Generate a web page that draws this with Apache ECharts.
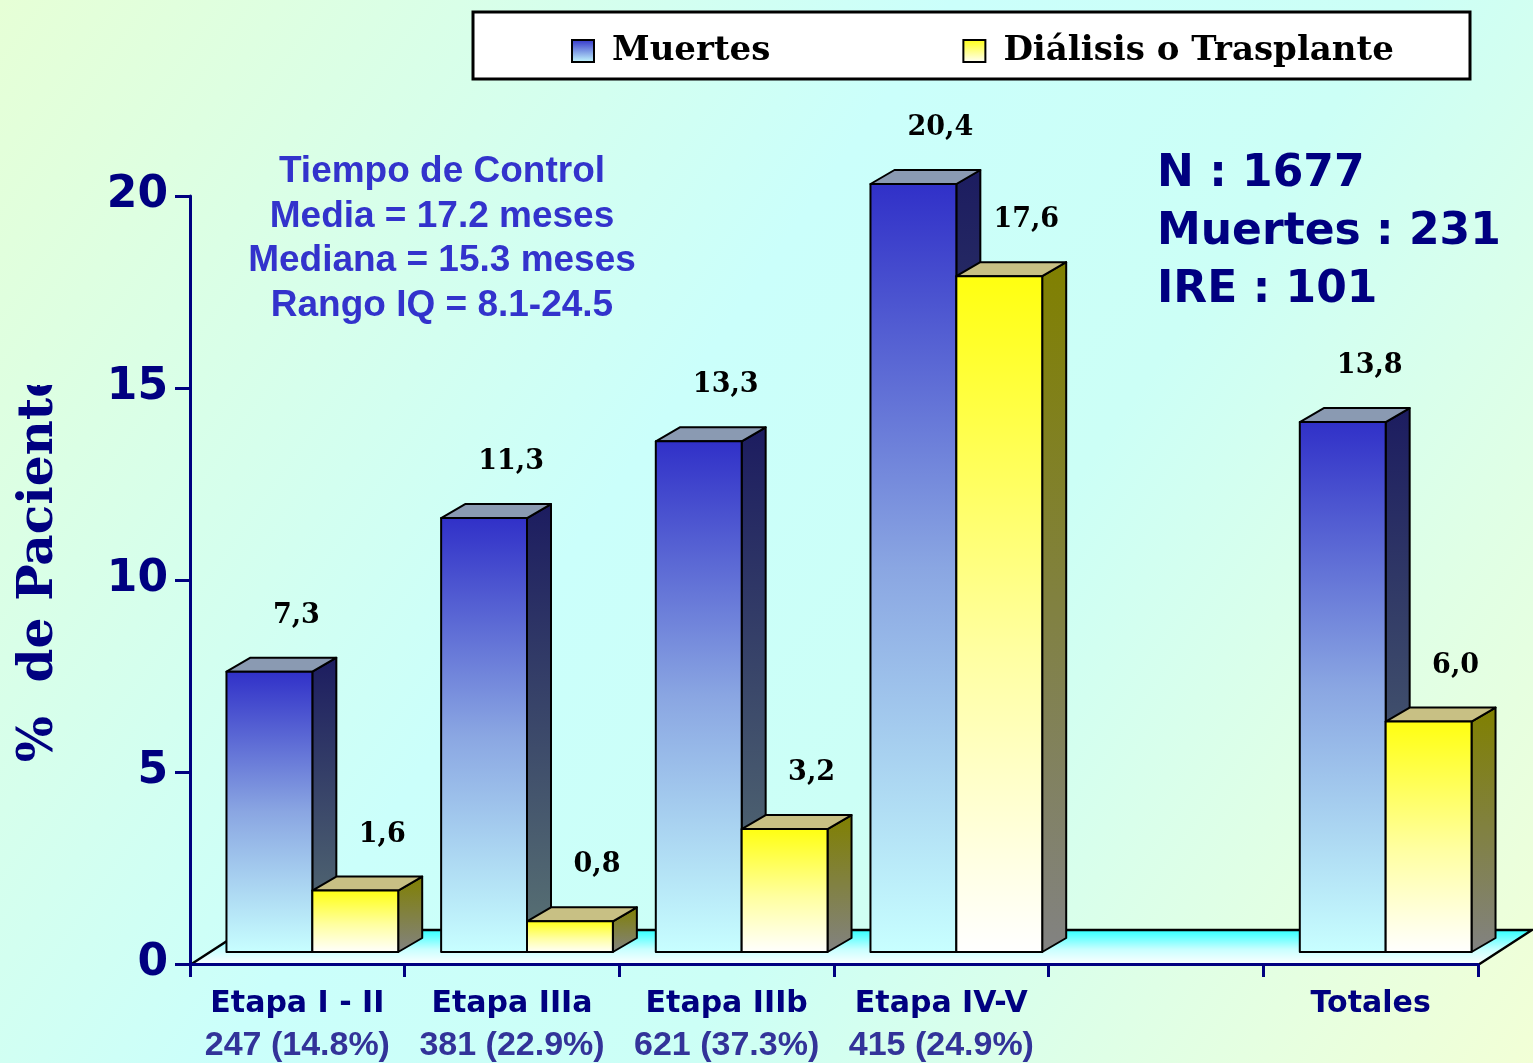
<!DOCTYPE html>
<html>
<head>
<meta charset="utf-8">
<script src="https://cdn.jsdelivr.net/npm/echarts@6/dist/echarts.min.js"></script>
<style>
html,body{margin:0;padding:0;overflow:hidden;}
#c{width:1533px;height:1063px;}
</style>
</head>
<body>
<div id="c"></div>
<script>
// ---- data ----
const categories = ['Etapa I - II', 'Etapa IIIa', 'Etapa IIIb', 'Etapa IV-V', '', 'Totales'];
const counts = ['247 (14.8%)', '381 (22.9%)', '621 (37.3%)', '415 (24.9%)', '', ''];
const muertes = [7.3, 11.3, 13.3, 20.4, null, 13.8];
const dialisis = [1.6, 0.8, 3.2, 17.6, null, 6.0];
const yTicks = [0, 5, 10, 15, 20];
const seriesNames = ['Muertes', 'Diálisis o Trasplante'];
const controlLines = ['Tiempo de Control', 'Media = 17.2 meses', 'Mediana = 15.3 meses', 'Rango IQ = 8.1-24.5'];
const statsLines = ['N : 1677', 'Muertes : 231', 'IRE : 101'];
const yTitle = '%  de Pacientes';

// ---- layout / style ----
const W = 1533, H = 1063;
const GRID = {left: 190, top: 196, width: 1288, height: 769};
const Y_MIN = yTicks[0], Y_MAX = yTicks[yTicks.length - 1], Y_STEP = yTicks[1] - yTicks[0];
const NAVY = '#000080';
const LG = echarts.graphic.LinearGradient;

const bgStops = [
  {offset: 0, color: '#e6ffd6'},
  {offset: 0.42, color: '#cbfffb'},
  {offset: 0.62, color: '#ccfff6'},
  {offset: 1, color: '#f2ffd6'}
];

const styles = [
  { // Muertes
    front: [{offset: 0, color: '#3030c8'}, {offset: 0.5, color: '#8aa6e2'}, {offset: 1, color: '#c8ffff'}],
    side: [{offset: 0, color: '#1c1c60'}, {offset: 1, color: '#5a7474'}],
    top: '#8a9ab2'
  },
  { // Dialisis
    front: [{offset: 0, color: '#ffff10'}, {offset: 0.55, color: '#ffffa0'}, {offset: 1, color: '#ffffff'}],
    side: [{offset: 0, color: '#808000'}, {offset: 1, color: '#828282'}],
    top: '#c8c084'
  }
];

// 3D projection (pixels)
const FRONT_DX = 15, FRONT_DY = -12;   // bar front plane offset from axis plane
const DEPTH_DX = 24, DEPTH_DY = -14;   // bar depth
const FLOOR_DX = 54, FLOOR_DY = -35;   // floor depth
const LABEL_DX = 27, LABEL_DY = -56;

function fmt(v) { return v.toFixed(1).replace('.', ','); }

function makeRender(si) {
  const st = styles[si];
  return function (params, api) {
    const cat = api.value(0);
    const v = api.value(1);
    if (v == null || isNaN(v)) return;
    const band = api.size([1, 0])[0];
    const base = api.coord([cat, 0]);
    const topP = api.coord([cat, Math.min(v, Y_MAX)]);
    const bw = band * 0.4;
    const cx = base[0] + FRONT_DX;
    const x0 = si === 0 ? cx - bw : cx;
    const x1 = x0 + bw;
    const yb = base[1] + FRONT_DY;
    const yt = topP[1] + FRONT_DY;
    const stroke = {stroke: '#000', lineWidth: 2, lineJoin: 'round'};
    return {
      type: 'group',
      children: [
        {
          type: 'polygon',
          shape: {points: [[x1, yt], [x1 + DEPTH_DX, yt + DEPTH_DY], [x1 + DEPTH_DX, yb + DEPTH_DY], [x1, yb]]},
          style: Object.assign({fill: new LG(0, 0, 0, 1, st.side)}, stroke)
        },
        {
          type: 'polygon',
          shape: {points: [[x0, yt], [x0 + DEPTH_DX, yt + DEPTH_DY], [x1 + DEPTH_DX, yt + DEPTH_DY], [x1, yt]]},
          style: Object.assign({fill: st.top}, stroke)
        },
        {
          type: 'rect',
          shape: {x: x0, y: yt, width: bw, height: yb - yt},
          style: Object.assign({fill: new LG(0, 0, 0, 1, st.front)}, stroke)
        },
        {
          type: 'text',
          style: {
            text: fmt(v),
            x: (x0 + x1) / 2 + LABEL_DX,
            y: yt + LABEL_DY,
            textAlign: 'center', align: 'center',
            textVerticalAlign: 'middle', verticalAlign: 'middle',
            font: 'bold 27px "DejaVu Serif", serif',
            fill: '#000'
          }
        }
      ]
    };
  };
}

function toData(arr) {
  return arr.map((v, i) => [i, v]).filter(d => d[1] != null);
}

const GB = GRID.top + GRID.height, GL = GRID.left, GR = GRID.left + GRID.width;

const graphics = [
  // floor
  {
    type: 'polygon', z: 1, silent: true,
    shape: {points: [[GL, GB], [GR, GB], [GR + FLOOR_DX, GB + FLOOR_DY], [GL + FLOOR_DX, GB + FLOOR_DY]]},
    style: {fill: new LG(0, 0, 0, 1, [{offset: 0, color: '#30ffff'}, {offset: 0.55, color: '#c8ffff'}, {offset: 1, color: '#ffffff'}])}
  },
  {
    type: 'polyline', z: 1, silent: true,
    shape: {points: [[GL, GB], [GL + FLOOR_DX, GB + FLOOR_DY], [GR + FLOOR_DX, GB + FLOOR_DY], [GR, GB]]},
    style: {stroke: '#000', lineWidth: 2.5, fill: null}
  },
  // legend box
  {
    type: 'rect', z: 1, silent: true,
    shape: {x: 473, y: 12, width: 997, height: 67},
    style: {fill: '#ffffff', stroke: '#000', lineWidth: 3}
  },
  // cover for clipped axis title
  {
    type: 'rect', z: 100, silent: true,
    shape: {x: 0, y: 0, width: 100, height: 385},
    style: {fill: new LG(0, 0, W, H, bgStops, true)}
  }
];

controlLines.forEach((t, i) => {
  graphics.push({
    type: 'text', z: 10, silent: true,
    style: {
      text: t, x: 442, y: 172 + i * 44.5,
      textAlign: 'center', align: 'center', textVerticalAlign: 'middle', verticalAlign: 'middle',
      font: 'bold 37px "Liberation Sans", Arial, sans-serif', fill: '#3333cc'
    }
  });
});
statsLines.forEach((t, i) => {
  graphics.push({
    type: 'text', z: 10, silent: true,
    style: {
      text: t, x: 1157, y: 175 + i * 58,
      textAlign: 'left', align: 'left', textVerticalAlign: 'middle', verticalAlign: 'middle',
      font: 'bold 44px "DejaVu Sans", sans-serif', fill: NAVY
    }
  });
});

const legendIcon = [
  new LG(0, 0, 0, 1, [{offset: 0, color: '#3030c8'}, {offset: 1, color: '#c8ffff'}]),
  new LG(0, 0, 0, 1, [{offset: 0, color: '#ffff10'}, {offset: 1, color: '#ffffff'}])
];

const option = {
  backgroundColor: new LG(0, 0, 1, 1, bgStops),
  animation: false,
  grid: {left: GRID.left, top: GRID.top, width: GRID.width, height: GRID.height, containLabel: false},
  legend: {
    left: 566, top: 29,
    itemWidth: 22, itemHeight: 22, itemGap: 192,
    selectedMode: false,
    data: seriesNames.map((n, i) => ({
      name: n, icon: 'rect',
      itemStyle: {color: legendIcon[i], borderColor: '#000', borderWidth: 2}
    })),
    textStyle: {fontFamily: '"DejaVu Serif", serif', fontWeight: 'bold', fontSize: 34, color: '#000', padding: [0, 0, 0, 13]}
  },
  xAxis: {
    type: 'category',
    data: categories,
    z: 5,
    axisLine: {show: true, lineStyle: {color: NAVY, width: 3}},
    axisTick: {show: true, interval: 0, length: 13, lineStyle: {color: NAVY, width: 3}},
    axisLabel: {
      interval: 0, margin: 19,
      formatter: function (val, idx) {
        if (!val) return '';
        return counts[idx] ? '{a|' + val + '}\n{b|' + counts[idx] + '}' : '{a|' + val + '}';
      },
      rich: {
        a: {fontFamily: '"DejaVu Sans", sans-serif', fontWeight: 'bold', fontSize: 30, color: NAVY, lineHeight: 42},
        b: {fontFamily: '"Liberation Sans", Arial, sans-serif', fontWeight: 'bold', fontSize: 34, color: '#333399', lineHeight: 42}
      }
    },
    splitLine: {show: false}
  },
  yAxis: {
    type: 'value',
    min: Y_MIN, max: Y_MAX, interval: Y_STEP,
    z: 5,
    name: yTitle,
    nameLocation: 'middle',
    nameRotate: 90,
    nameGap: 126,
    nameTextStyle: {fontFamily: '"DejaVu Serif", serif', fontWeight: 'bold', fontSize: 48.5, color: NAVY, padding: [0, 0, 0, 58]},
    axisLine: {show: true, lineStyle: {color: NAVY, width: 3}},
    axisTick: {show: true, length: 15, lineStyle: {color: NAVY, width: 3}},
    axisLabel: {margin: 22, fontFamily: '"DejaVu Sans", sans-serif', fontWeight: 'bold', fontSize: 44, color: NAVY},
    splitLine: {show: false}
  },
  graphic: {elements: graphics},
  series: [
    {
      type: 'custom', name: seriesNames[0], z: 2, clip: false,
      itemStyle: {color: legendIcon[0]},
      encode: {x: 0, y: 1},
      renderItem: makeRender(0),
      data: toData(muertes)
    },
    {
      type: 'custom', name: seriesNames[1], z: 2, clip: false,
      itemStyle: {color: legendIcon[1]},
      encode: {x: 0, y: 1},
      renderItem: makeRender(1),
      data: toData(dialisis)
    }
  ]
};

const chart = echarts.init(document.getElementById('c'), null, {renderer: 'canvas', width: W, height: H});
chart.setOption(option);
</script>
</body>
</html>
